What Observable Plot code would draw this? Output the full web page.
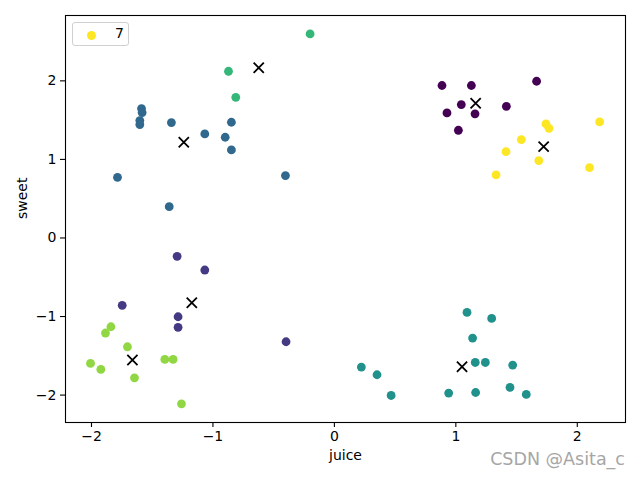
<!DOCTYPE html>
<html>
<head>
<meta charset="utf-8">
<script src="https://cdn.jsdelivr.net/npm/d3@7"></script>
<script src="https://cdn.jsdelivr.net/npm/@observablehq/plot@0.6"></script>
<style>
  html, body { margin: 0; padding: 0; background: #fff; }
  #wrap { position: relative; width: 640px; height: 480px; font-family: "DejaVu Sans", sans-serif; }
  #legend { position: absolute; left: 72px; top: 22px; width: 57px; height: 24px; border: 1px solid #d0d0d0; border-radius: 3px; background: rgba(255,255,255,0.8); box-sizing: border-box; }
  #legend .dot { position: absolute; left: 14px; top: 7.5px; width: 9px; height: 9px; border-radius: 50%; background: #fde725; }
  #legend .lab { position: absolute; left: 42px; top: 2px; font-size: 14px; color: #000; }
  #mark { position: absolute; right: 15px; top: 449px; font-size: 17.5px; color: #a6a6a6; font-family: "DejaVu Sans", sans-serif; text-shadow: 0 0 1px #fff; }
</style>
</head>
<body>
<div id="wrap"></div>
<script>
// point data
const juice = [-0.200, -0.872, -0.812,
  -1.588, -1.583, -1.602, -1.602, -1.342, -0.848, -1.067, -0.899, -0.848, -1.786, -0.403, -1.360,
  0.886, 1.128, 1.665, 1.045, 0.927, 1.158, 1.416, 1.021,
  1.742, 1.767, 2.184, 1.539, 1.413, 1.683, 1.331, 2.101,
  -1.295, -1.067, -1.747, -1.287, -1.287, -0.398,
  -1.840, -1.885, -1.704, -2.008, -1.923, -1.646, -1.396, -1.328, -1.259,
  0.222, 0.351, 0.467, 1.092, 1.295, 1.138, 1.160, 1.243, 1.468, 0.941, 1.163, 1.446, 1.580];
const sweet = [2.597, 2.122, 1.791,
  1.647, 1.596, 1.494, 1.443, 1.469, 1.473, 1.325, 1.282, 1.121, 0.772, 0.794, 0.399,
  1.941, 1.941, 1.995, 1.698, 1.592, 1.580, 1.676, 1.371,
  1.452, 1.396, 1.477, 1.252, 1.099, 0.985, 0.803, 0.896,
  -0.234, -0.408, -0.858, -1.003, -1.138, -1.321,
  -1.130, -1.210, -1.385, -1.597, -1.673, -1.780, -1.546, -1.546, -2.111,
  -1.643, -1.741, -2.005, -0.948, -1.024, -1.274, -1.585, -1.585, -1.618, -1.975, -1.967, -1.903, -1.992];
const label = [4, 4, 4,
  2, 2, 2, 2, 2, 2, 2, 2, 2, 2, 2, 2,
  0, 0, 0, 0, 0, 0, 0, 0,
  6, 6, 6, 6, 6, 6, 6, 6,
  1, 1, 1, 1, 1, 1,
  5, 5, 5, 5, 5, 5, 5, 5, 5,
  3, 3, 3, 3, 3, 3, 3, 3, 3, 3, 3, 3, 3];
// cluster centers
const centerJuice = [1.163, -1.174, -1.240, 1.051, -0.623, -1.663, 1.723];
const centerSweet = [1.715, -0.824, 1.218, -1.640, 2.166, -1.554, 1.163];
// ticks
const xTicks = [-2, -1, 0, 1, 2];
const yTicks = [-2, -1, 0, 1, 2];
const clusterIds = [0, 1, 2, 3, 4, 5, 6];
const palette = ["#440154", "#443983", "#31688e", "#21918c", "#35b779", "#90d743", "#fde725"];

const points = juice.map((x, i) => ({juice: x, sweet: sweet[i], label: label[i]}));
const centers = centerJuice.map((x, i) => ({juice: x, sweet: centerSweet[i]}));

const chart = Plot.plot({
  width: 640,
  height: 480,
  marginLeft: 65,
  marginRight: 15,
  marginTop: 15,
  marginBottom: 58,
  style: {fontFamily: "DejaVu Sans, sans-serif", fontSize: "14px", color: "#000", background: "#fff", overflow: "visible"},
  x: {domain: [-2.214, 2.397]},
  y: {domain: [-2.349, 2.832]},
  color: {type: "ordinal", domain: clusterIds, range: palette},
  marks: [
    Plot.dot(points, {x: "juice", y: "sweet", fill: "label", r: 4.4}),
    Plot.dot(centers, {x: "juice", y: "sweet", symbol: "times", r: 4.7, stroke: "#000", strokeWidth: 1.8}),
    Plot.frame({stroke: "#000", strokeWidth: 1.1}),
    Plot.axisX({ticks: xTicks, tickFormat: "d", tickSize: 5, tickPadding: 4, fontSize: 14, label: null, strokeWidth: 1.1}),
    Plot.axisY({ticks: yTicks, tickFormat: "d", tickSize: 5, tickPadding: 4, fontSize: 14, label: null, strokeWidth: 1.1}),
    Plot.text(["juice"], {text: d => d, frameAnchor: "bottom", dy: 37, fontSize: 14}),
    Plot.text(["sweet"], {text: d => d, frameAnchor: "left", dx: -43, rotate: -90, fontSize: 14})
  ]
});

const wrap = document.getElementById("wrap");
wrap.appendChild(chart);
const legend = document.createElement("div");
legend.id = "legend";
legend.innerHTML = '<div class="dot"></div><div class="lab">7</div>';
wrap.appendChild(legend);
const mark = document.createElement("div");
mark.id = "mark";
mark.textContent = "CSDN @Asita_c";
wrap.appendChild(mark);
</script>
</body>
</html>
